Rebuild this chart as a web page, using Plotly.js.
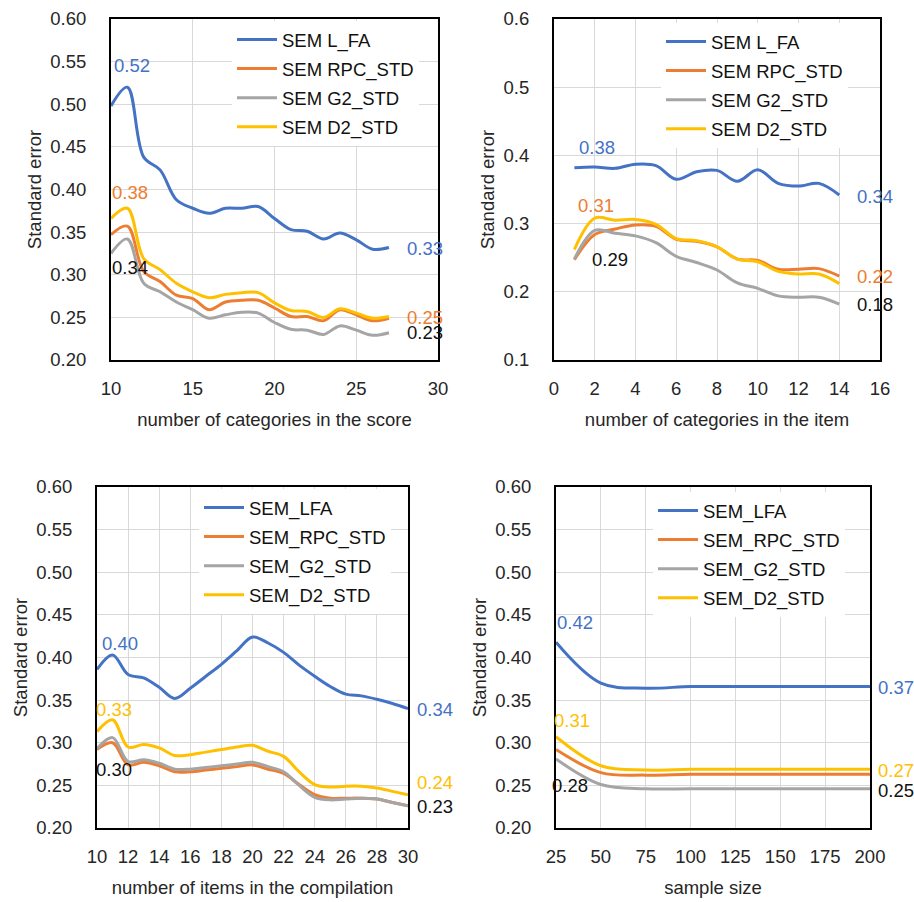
<!DOCTYPE html>
<html>
<head>
<meta charset="utf-8">
<script src="https://cdn.plot.ly/plotly-3.0.1.min.js"></script>
<style>
html,body{margin:0;padding:0;background:#fff;}
#chart{width:914px;height:902px;}
</style>
</head>
<body>
<div id="chart"></div>
<script>
// ---------- DATA ----------
// Panel 1: number of categories in the score
const p1X   = [10,11,12,13,14,15,16,17,18,19,20,21,22,23,24,25,26,27];
const p1LFA = [0.498,0.520,0.438,0.423,0.388,0.378,0.372,0.378,0.378,0.380,0.366,0.353,0.351,0.342,0.349,0.341,0.330,0.332];
const p1RPC = [0.347,0.357,0.304,0.292,0.276,0.272,0.259,0.268,0.270,0.270,0.261,0.251,0.251,0.246,0.259,0.253,0.246,0.249];
const p1G2  = [0.325,0.342,0.290,0.280,0.268,0.259,0.249,0.253,0.256,0.255,0.244,0.236,0.235,0.230,0.240,0.235,0.229,0.232];
const p1D2  = [0.366,0.378,0.319,0.306,0.290,0.280,0.273,0.277,0.279,0.279,0.267,0.258,0.257,0.250,0.260,0.255,0.249,0.251];
const p1Names = ["SEM L_FA","SEM RPC_STD","SEM G2_STD","SEM D2_STD"];

// Panel 2: number of categories in the item
const p2X   = [1,2,3,4,5,6,7,8,9,10,11,12,13,14];
const p2LFA = [0.382,0.383,0.381,0.387,0.385,0.365,0.376,0.378,0.362,0.379,0.359,0.355,0.359,0.342];
const p2RPC = [0.247,0.284,0.292,0.298,0.296,0.277,0.274,0.266,0.248,0.246,0.233,0.233,0.234,0.223];
const p2G2  = [0.248,0.290,0.286,0.282,0.272,0.252,0.243,0.232,0.213,0.205,0.194,0.192,0.192,0.182];
const p2D2  = [0.262,0.308,0.305,0.306,0.299,0.278,0.275,0.266,0.248,0.244,0.230,0.226,0.226,0.212];
const p2Names = ["SEM L_FA","SEM RPC_STD","SEM G2_STD","SEM D2_STD"];

// Panel 3: number of items in the compilation
const p3X   = [10,11,12,13,14,15,16,17,18,19,20,21,22,23,24,25,26,27,28,29,30];
const p3LFA = [0.386,0.403,0.380,0.376,0.365,0.352,0.364,0.378,0.392,0.408,0.424,0.417,0.406,0.391,0.378,0.366,0.357,0.355,0.351,0.346,0.340];
const p3RPC = [0.292,0.300,0.274,0.277,0.273,0.266,0.266,0.268,0.270,0.272,0.274,0.269,0.264,0.251,0.239,0.235,0.235,0.235,0.234,0.230,0.226];
const p3G2  = [0.293,0.306,0.278,0.280,0.276,0.269,0.269,0.271,0.273,0.275,0.277,0.272,0.266,0.250,0.236,0.233,0.234,0.235,0.234,0.230,0.226];
const p3D2  = [0.313,0.327,0.295,0.298,0.294,0.285,0.286,0.289,0.292,0.295,0.297,0.290,0.284,0.266,0.251,0.248,0.249,0.249,0.247,0.243,0.239];
const p3Names = ["SEM_LFA","SEM_RPC_STD","SEM_G2_STD","SEM_D2_STD"];

// Panel 4: sample size
const p4X   = [25,50,75,100,125,150,175,200];
const p4LFA = [0.418,0.370,0.364,0.366,0.366,0.366,0.366,0.366];
const p4RPC = [0.292,0.265,0.262,0.263,0.263,0.263,0.263,0.263];
const p4G2  = [0.281,0.251,0.246,0.246,0.246,0.246,0.246,0.246];
const p4D2  = [0.307,0.273,0.268,0.269,0.269,0.269,0.269,0.269];
const p4Names = ["SEM_LFA","SEM_RPC_STD","SEM_G2_STD","SEM_D2_STD"];

// Data labels: [x, y, text, colorIndex]
const p1LeftLabels  = [[11.28,0.546,"0.52",0],[11.16,0.396,"0.38",1],[11.16,0.309,"0.34",4]];
const p1RightLabels = [[27,0.331,"0.33",0],[27,0.250,"0.25",1],[27,0.232,"0.23",4]];
const p2LeftLabels  = [[2.13,0.411,"0.38",0],[2.06,0.326,"0.31",1],[2.75,0.247,"0.29",4]];
const p2RightLabels = [[14,0.340,"0.34",0],[14,0.223,"0.22",1],[14,0.181,"0.18",4]];
const p3LeftLabels  = [[11.51,0.417,"0.40",0],[11.1,0.339,"0.33",3],[11.1,0.269,"0.30",4]];
const p3RightLabels = [[30,0.339,"0.34",0],[30,0.253,"0.24",3],[30,0.225,"0.23",4]];
const p4LeftLabels  = [[35.4,0.441,"0.42",0],[34.0,0.326,"0.31",3],[32.8,0.250,"0.28",4]];
const p4RightLabels = [[200,0.365,"0.37",0],[200,0.268,"0.27",3],[200,0.244,"0.25",4]];

// ---------- STYLE ----------
const COLORS = ["#4472C4","#ED7D31","#A5A5A5","#FFC000","#111111"];
const FONT = "'Liberation Sans Narrow','Arial Narrow','Liberation Sans',Arial,sans-serif";
const FS = 18.5;
const W = 914, H = 902;

function px2x(a,b){return [a/W,b/W];}
function px2y(top,bot){return [1-bot/H,1-top/H];}

const panels = [
  {xs:"x",ys:"y",leg:"legend", X:p1X, S:[p1LFA,p1RPC,p1G2,p1D2], N:p1Names, L:p1LeftLabels, R:p1RightLabels, rshift:16},
  {xs:"x2",ys:"y2",leg:"legend2", X:p2X, S:[p2LFA,p2RPC,p2G2,p2D2], N:p2Names, L:p2LeftLabels, R:p2RightLabels, rshift:16},
  {xs:"x3",ys:"y3",leg:"legend3", X:p3X, S:[p3LFA,p3RPC,p3G2,p3D2], N:p3Names, L:p3LeftLabels, R:p3RightLabels, rshift:7},
  {xs:"x4",ys:"y4",leg:"legend4", X:p4X, S:[p4LFA,p4RPC,p4G2,p4D2], N:p4Names, L:p4LeftLabels, R:p4RightLabels, rshift:6}
];

const traces = [];
const annotations = [];
panels.forEach((p,pi)=>{
  p.S.forEach((ys,i)=>{
    traces.push({
      type:"scatter", mode:"lines", x:p.X, y:ys, name:p.N[i],
      xaxis:p.xs, yaxis:p.ys, legend:p.leg, legendgroup:"g"+pi+"_"+i,
      line:{color:COLORS[i], width:3, shape:"spline", smoothing:1},
      hoverinfo:"skip"
    });
  });
  p.L.forEach(l=>{
    annotations.push({xref:p.xs, yref:p.ys, x:l[0], y:l[1], text:l[2], showarrow:false,
      font:{family:FONT,size:FS,color:COLORS[l[3]]}, xanchor:"center", yanchor:"middle"});
  });
  p.R.forEach(l=>{
    annotations.push({xref:p.xs, yref:p.ys, x:l[0], y:l[1], text:l[2], showarrow:false,
      font:{family:FONT,size:FS,color:COLORS[l[3]]}, xanchor:"left", yanchor:"middle", xshift:p.rshift});
  });
});

function xax(dom, range, dtick, title, anchor){
  return {domain:dom, range:range, dtick:dtick, tick0:range[0], anchor:anchor,
    showline:true, mirror:true, linecolor:"#000", linewidth:2,
    showgrid:true, gridcolor:"#d9d9d9", gridwidth:1, zeroline:false, ticks:"",
    ticklabelstandoff:11,
    tickfont:{family:FONT,size:FS,color:"#262626"},
    title:{text:title, font:{family:FONT,size:FS,color:"#262626"}, standoff:15},
    fixedrange:true};
}
function yax(dom, range, dtick, fmt, anchor){
  return {domain:dom, range:range, dtick:dtick, tick0:range[0], tickformat:fmt, anchor:anchor,
    showline:true, mirror:true, linecolor:"#000", linewidth:2,
    showgrid:true, gridcolor:"#d9d9d9", gridwidth:1, zeroline:false, ticks:"",
    ticklabelstandoff:19,
    tickfont:{family:FONT,size:FS,color:"#262626"},
    title:{text:"Standard error", font:{family:FONT,size:FS,color:"#262626"}, standoff:4},
    fixedrange:true};
}

function legendAt(xpx, ypx){
  return {x:xpx/W, y:1-ypx/H, xanchor:"left", yanchor:"top", bgcolor:"#ffffff",
    borderwidth:0, itemwidth:40, tracegroupgap:2,
    font:{family:FONT,size:FS,color:"#111"}, itemclick:false, itemdoubleclick:false};
}

const layout = {
  width:W, height:H, margin:{l:0,r:0,t:0,b:0},
  paper_bgcolor:"#fff", plot_bgcolor:"#fff", showlegend:true,
  font:{family:FONT,size:FS,color:"#262626"},
  xaxis: xax(px2x(111,438),[10,30],5,"number of categories in the score","y"),
  yaxis: yax(px2y(19,360),[0.2,0.6],0.05,".2f","x"),
  xaxis2: xax(px2x(554,880),[0,16],2,"number of categories in the item","y2"),
  yaxis2: yax(px2y(19,360),[0.1,0.6],0.1,".1f","x2"),
  xaxis3: xax(px2x(97,408),[10,30],2,"number of items in the compilation","y3"),
  yaxis3: yax(px2y(487,828),[0.2,0.6],0.05,".2f","x3"),
  xaxis4: xax(px2x(556,870),[25,200],25,"sample size","y4"),
  yaxis4: yax(px2y(487,828),[0.2,0.6],0.05,".2f","x4"),
  legend: legendAt(232,21),
  legend2: legendAt(661,23),
  legend3: legendAt(199,489),
  legend4: legendAt(653,492),
  annotations: annotations
};

Plotly.newPlot("chart", traces, layout, {displayModeBar:false, staticPlot:true});
</script>
</body>
</html>
